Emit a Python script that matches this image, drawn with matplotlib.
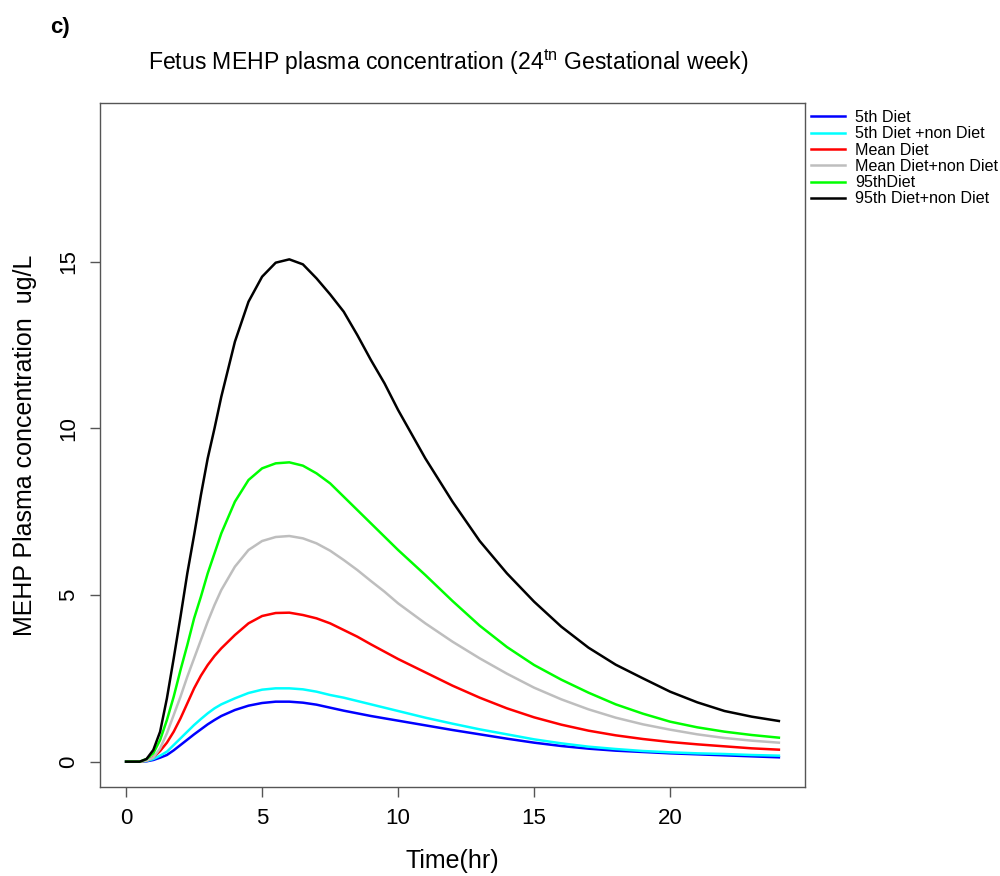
import numpy as np
import matplotlib
matplotlib.use("Agg")
import matplotlib.pyplot as plt

plt.rcParams['font.family'] = ['Liberation Sans', 'DejaVu Sans']
plt.rcParams['mathtext.fontset'] = 'custom'
plt.rcParams['mathtext.rm'] = 'Liberation Sans'

# time grid (hr) and concentrations (ug/L)
time_hr = [0, 0.5, 0.75, 1, 1.25, 1.5, 1.75, 2, 2.25, 2.5, 2.75, 3, 3.25, 3.5, 4, 4.5, 5, 5.5, 6, 6.5,
           7, 7.5, 8, 8.5, 9, 9.5, 10, 11, 12, 13, 14, 15, 16, 17, 18, 19, 20, 21, 22, 23, 24]

p5_diet = [0, 0, 0.01, 0.05, 0.12, 0.2, 0.34, 0.5, 0.66, 0.82, 0.97, 1.12, 1.25, 1.37, 1.55, 1.68, 1.76, 1.8, 1.8, 1.77,
           1.71, 1.62, 1.53, 1.45, 1.37, 1.3, 1.23, 1.09, 0.95, 0.82, 0.69, 0.57, 0.47, 0.39, 0.33, 0.29, 0.25, 0.22, 0.19, 0.16, 0.13]
p5_diet_nondiet = [0, 0, 0.02, 0.08, 0.18, 0.3, 0.5, 0.7, 0.9, 1.1, 1.28, 1.45, 1.6, 1.72, 1.9, 2.06, 2.16, 2.2, 2.2, 2.17,
                   2.1, 2.0, 1.92, 1.82, 1.72, 1.62, 1.52, 1.32, 1.14, 0.97, 0.82, 0.67, 0.55, 0.45, 0.38, 0.32, 0.28, 0.25, 0.23, 0.2, 0.18]
mean_diet = [0, 0, 0.03, 0.13, 0.32, 0.57, 0.9, 1.3, 1.75, 2.2, 2.58, 2.9, 3.17, 3.4, 3.8, 4.15, 4.37, 4.46, 4.47, 4.4,
             4.3, 4.15, 3.95, 3.75, 3.52, 3.3, 3.08, 2.68, 2.28, 1.92, 1.6, 1.33, 1.11, 0.93, 0.79, 0.68, 0.59, 0.52, 0.46, 0.4, 0.36]
mean_diet_nondiet = [0, 0, 0.03, 0.12, 0.4, 0.85, 1.4, 1.95, 2.55, 3.1, 3.65, 4.2, 4.7, 5.15, 5.85, 6.35, 6.62, 6.74, 6.77, 6.7,
                     6.55, 6.33, 6.05, 5.75, 5.42, 5.1, 4.75, 4.15, 3.6, 3.1, 2.64, 2.22, 1.87, 1.57, 1.32, 1.12, 0.96, 0.82, 0.71, 0.63, 0.57]
p95_diet = [0, 0, 0.08, 0.25, 0.65, 1.25, 1.95, 2.75, 3.5, 4.3, 4.95, 5.65, 6.25, 6.85, 7.8, 8.45, 8.8, 8.95, 8.98, 8.88,
            8.65, 8.35, 7.95, 7.55, 7.15, 6.75, 6.35, 5.6, 4.82, 4.08, 3.44, 2.9, 2.46, 2.07, 1.72, 1.44, 1.2, 1.03, 0.9, 0.8, 0.72]
p95_diet_nondiet = [0, 0, 0.08, 0.35, 0.9, 1.9, 3.1, 4.35, 5.65, 6.8, 8.0, 9.1, 10.0, 10.95, 12.6, 13.8, 14.55, 14.97, 15.07, 14.92,
                    14.5, 14.02, 13.5, 12.8, 12.05, 11.35, 10.55, 9.1, 7.8, 6.62, 5.65, 4.8, 4.05, 3.42, 2.91, 2.5, 2.1, 1.78, 1.52, 1.35, 1.22]

labels = ["5th Diet", "5th Diet +non Diet", "Mean Diet", "Mean Diet+non Diet", "95thDiet", "95th Diet+non Diet"]
series = [p5_diet, p5_diet_nondiet, mean_diet, mean_diet_nondiet, p95_diet, p95_diet_nondiet]
colors = ["#0000FF", "#00FFFF", "#FF0000", "#BEBEBE", "#00FF00", "#000000"]

fig = plt.figure(figsize=(10, 8.76), dpi=100)
ax = fig.add_axes([0.1, 0.1016, 0.705, 0.7808])

for y, c, lab in zip(series, colors, labels):
    ax.plot(time_hr, y, color=c, lw=1.8, label=lab)

ax.set_xlim(-0.96, 24.96)
ax.set_ylim(-0.76, 19.76)
ax.set_xticks([0, 5, 10, 15, 20])
ax.set_yticks([0, 5, 10, 15])
for s in ax.spines.values():
    s.set_color("#555555")
    s.set_linewidth(1.0)
ax.tick_params(axis='both', direction='out', length=7, width=1.0, color="#555555", labelsize=16)
ax.tick_params(axis='x', pad=8)
ax.tick_params(axis='y', pad=8)
for t in ax.get_yticklabels():
    t.set_rotation(90)
    t.set_va('center')

ax.set_xlabel("Time(hr)", fontsize=18)
ax.xaxis.label.set_va('center')
ax.xaxis.set_label_coords(0.5, (787 - 861) / 684)
ax.set_ylabel("MEHP Plasma concentration  ug/L", fontsize=18)
ax.yaxis.label.set_va('center')
ax.yaxis.set_label_coords((25 - 100) / 705, 0.5)

fig.text(0.4485, 1 - 62 / 876, r"Fetus MEHP plasma concentration (24$^{\mathrm{tn}}$ Gestational week)",
         ha='center', va='center', fontsize=16.6)
fig.text(0.05, 1 - 28 / 876, "c)", fontsize=16, fontweight='bold', ha='left', va='center')

fig.legend(loc='upper left', bbox_to_anchor=(0.811, 1 - 110 / 876), frameon=False,
           fontsize=11.6, labelspacing=0.08, handlelength=2.1, handletextpad=0.65, borderpad=0,
           borderaxespad=0)

fig.savefig("out.png", dpi=100)
